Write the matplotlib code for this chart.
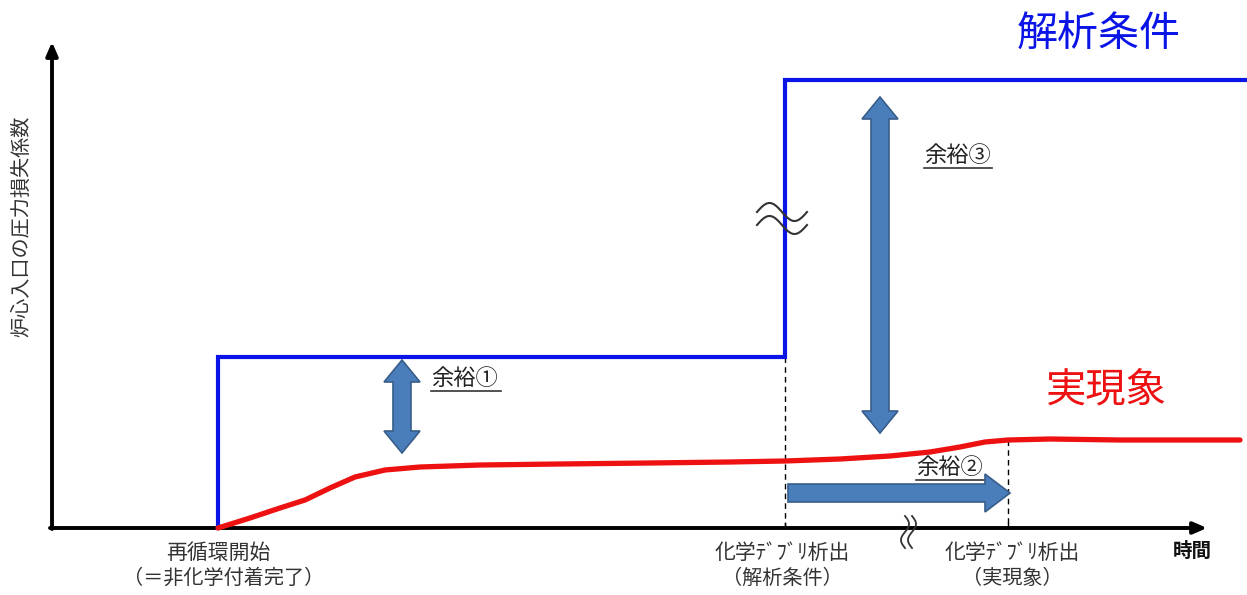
import matplotlib
matplotlib.use("Agg")
import matplotlib.pyplot as plt
import numpy as np
from matplotlib.patches import Polygon

plt.rcParams['font.family'] = ['Noto Sans CJK JP', 'DejaVu Sans']

# Conceptual diagram values (pixel-like units: x = time, y = coefficient, y downward)
origin = (52, 528)
x_axis_end = 1207
y_axis_end = 42

t_restart = 218
t_chem_anal = 785
t_chem_real = 1008

# Blue: analysis condition (step function)
blue_t = [218, 218, 785, 785, 1247]
blue_v = [528, 357, 357, 80, 80]

# Red: real phenomenon
red_t = [218, 250, 280, 305, 330, 355, 385, 420, 480, 560, 650, 730, 785, 840, 890, 930, 960, 985, 1008, 1050, 1120, 1180, 1240]
red_v = [528, 518, 508, 500, 488, 477, 470, 467, 465, 464, 463, 462, 461, 459, 456, 452, 447, 442, 440, 439, 440, 440, 440]

xtick_line1 = [(218, "再循環開始"), (782, "化学ﾃﾞﾌﾞﾘ析出"), (1012, "化学ﾃﾞﾌﾞﾘ析出")]
xtick_line2 = [(224, "（＝非化学付着完了）"), (782, "（解析条件）"), (1012, "（実現象）")]

fig = plt.figure(figsize=(12.47, 5.95), dpi=100)
ax = fig.add_axes([0, 0, 1, 1])
ax.set_xlim(0, 1247)
ax.set_ylim(595, 0)
ax.axis('off')

# axes
ax.annotate("", xy=(x_axis_end, origin[1]), xytext=(origin[0] - 2, origin[1]),
            arrowprops=dict(arrowstyle="-|>,head_length=0.8,head_width=0.35", color="black", lw=2.8,
                            shrinkA=0, shrinkB=0))
ax.annotate("", xy=(origin[0], y_axis_end), xytext=(origin[0], origin[1] + 1),
            arrowprops=dict(arrowstyle="-|>,head_length=0.8,head_width=0.35", color="black", lw=2.8,
                            shrinkA=0, shrinkB=0))

# small ticks
for xt in [t_chem_anal, t_chem_real]:
    ax.plot([xt, xt], [origin[1] - 5, origin[1]], color="black", lw=1)

# dashed guide lines
ax.plot([t_chem_anal, t_chem_anal], [357, origin[1]], color="black", lw=1, ls=(0, (4, 3)))
ax.plot([t_chem_real, t_chem_real], [440, origin[1]], color="black", lw=1, ls=(0, (4, 3)))

# curves
ax.plot(blue_t, blue_v, color="#0a14e6", lw=3, solid_joinstyle='miter', zorder=3)
ax.plot(red_t, red_v, color="#ee1111", lw=3.8, solid_capstyle='round', zorder=3)

arrow_fc = "#4a7ebb"
arrow_ec = "#385d8a"

def vdouble(cx, y0, y1, bw=9, hw=18, hl=22):
    pts = [(cx, y0), (cx + hw, y0 + hl), (cx + bw, y0 + hl), (cx + bw, y1 - hl), (cx + hw, y1 - hl),
           (cx, y1), (cx - hw, y1 - hl), (cx - bw, y1 - hl), (cx - bw, y0 + hl), (cx - hw, y0 + hl)]
    ax.add_patch(Polygon(pts, closed=True, fc=arrow_fc, ec=arrow_ec, lw=1.2, zorder=4))

def hsingle(x0, x1, cy, bw=9, hw=19, hl=25):
    pts = [(x0, cy - bw), (x1 - hl, cy - bw), (x1 - hl, cy - hw), (x1, cy), (x1 - hl, cy + hw),
           (x1 - hl, cy + bw), (x0, cy + bw)]
    ax.add_patch(Polygon(pts, closed=True, fc=arrow_fc, ec=arrow_ec, lw=1.2, zorder=4))

vdouble(402, 360, 453)
vdouble(880, 97, 433)
hsingle(788, 1010, 493)

# margin labels with underline
def ulabel(x, y, s, w):
    ax.text(x, y, s, fontsize=16, color="#222222", ha="left", va="center")
    ax.plot([x, x + w], [y + 13, y + 13], color="#333333", lw=1.2)

ulabel(431, 378, "余裕①", 70)
ulabel(924, 155, "余裕③", 68)
ulabel(916, 467, "余裕②", 71)

# big labels
ax.text(1099, 34, "解析条件", fontsize=29.5, color="#0a14e6", ha="center", va="center")
ax.text(1106, 390, "実現象", fontsize=29, color="#ee1111", ha="center", va="center")

# y label
ax.text(22, 226, "炉心入口の圧力損失係数", fontsize=14.5, color="#333333", rotation=90,
        ha="center", va="center")

# x labels
for xt, s in xtick_line1:
    ax.text(xt, 553, s, fontsize=15, color="#333333", ha="center", va="center")
for xt, s in xtick_line2:
    ax.text(xt, 578, s, fontsize=14.5, color="#333333", ha="center", va="center")
ax.text(1192, 551, "時間", fontsize=14, color="#111111", ha="center", va="center", fontweight="bold")

# break marks (wavy)
tt = np.linspace(0, 1, 60)
for dy in [0, 13]:
    xs = 757 + 50 * tt
    ys = 212 + dy - 9 * np.sin(2 * np.pi * tt)
    ax.plot(xs, ys, color="#333333", lw=1.5, zorder=5)
for dx in [0, 7]:
    ys = 516 + 32 * tt
    xs = 905 + dx + 4 * np.sin(2 * np.pi * tt)
    ax.plot(xs, ys, color="#333333", lw=1.3, zorder=5)

fig.savefig("out.png", dpi=100, facecolor="white")
